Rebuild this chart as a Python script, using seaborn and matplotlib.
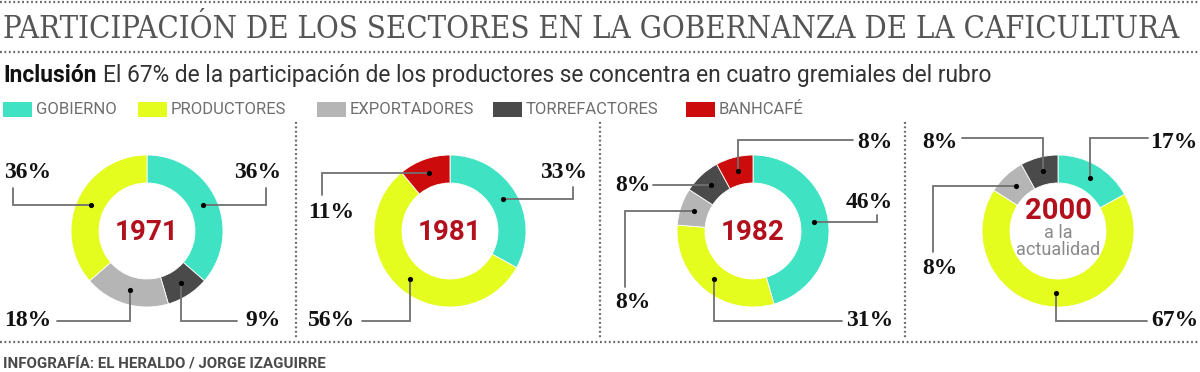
import matplotlib
matplotlib.use("Agg")
import matplotlib.pyplot as plt
import seaborn as sns
import numpy as np
from matplotlib.patches import Rectangle

sns.set_theme(style="white")
plt.rcParams['font.family'] = ['Roboto', 'DejaVu Sans']

# ---------------- data ----------------
categories = ["GOBIERNO", "PRODUCTORES", "EXPORTADORES", "TORREFACTORES", "BANHCAFÉ"]
cat_colors = ["#40e2c4", "#e4fc1e", "#b5b5b5", "#4a4a4a", "#cc0c0c"]
years = ["1971", "1981", "1982", "2000"]

order_1971 = ["GOBIERNO", "TORREFACTORES", "EXPORTADORES", "PRODUCTORES"]
values_1971 = [36, 9, 18, 36]
order_1981 = ["GOBIERNO", "PRODUCTORES", "BANHCAFÉ"]
values_1981 = [33, 56, 11]
order_1982 = ["GOBIERNO", "PRODUCTORES", "EXPORTADORES", "TORREFACTORES", "BANHCAFÉ"]
values_1982 = [46, 31, 8, 8, 8]
order_2000 = ["GOBIERNO", "PRODUCTORES", "EXPORTADORES", "TORREFACTORES"]
values_2000 = [17, 67, 8, 8]

title = "PARTICIPACIÓN DE LOS SECTORES EN LA GOBERNANZA DE LA CAFICULTURA"
subtitle_bold = "Inclusión"
subtitle_rest = "El 67% de la participación de los productores se concentra en cuatro gremiales del rubro"
year_note_2000 = ["a la", "actualidad"]
footer = "INFOGRAFÍA: EL HERALDO / JORGE IZAGUIRRE"

# ---------------- layout (pixels, y measured downward) ----------------
W, H = 1200, 372
palette = dict(zip(categories, sns.color_palette(cat_colors)))
centers_x = [147, 450, 753, 1058]
center_y = 231
R_OUT, RING = 76, 28
R_DOT = R_OUT - RING / 2

# leader routes per slice: (kind, a, b, label_x, label_y, ha)
#  "hv": horizontal to x=a, then vertical to y=b
#  "vh": vertical to y=a, then horizontal to x=b
#  "h" : horizontal to x=a (label at dot height)
routes = [
    [("hv", 266, 188, 281, 172, "right"),
     ("vh", 321, 237, 281, 320, "right"),
     ("vh", 321, 57, 4, 320, "left"),
     ("hv", 13, 188, 4, 172, "left")],
    [("hv", 573, 187, 587, 172, "right"),
     ("vh", 321, 362, 308, 320, "left"),
     ("hv", 322, 195, 308, 213, "left")],
    [("hv", 877, 215, 893, 202, "right"),
     ("vh", 321, 842, 893, 320, "right"),
     ("hv", 625, 287, 615, 303, "left"),
     ("h", 653, None, 615, None, "left"),
     ("vh", 140, 853, 893, 143, "right")],
    [("vh", 138, 1148, 1198, 142, "right"),
     ("vh", 321, 1147, 1198, 320, "right"),
     ("hv", 933, 252, 922, 268, "left"),
     ("vh", 138, 962, 922, 142, "left")],
]

panels = [(order_1971, values_1971), (order_1981, values_1981),
          (order_1982, values_1982), (order_2000, values_2000)]


def Y(y):
    return H - y


fig = plt.figure(figsize=(12, 3.72), dpi=100)
fig.patch.set_facecolor("white")
ax = fig.add_axes([0, 0, 1, 1])
renderer = fig.canvas.get_renderer()

LINE_C = "#707070"

for i, (order, vals) in enumerate(panels):
    cx = centers_x[i]
    ax.pie(vals, colors=[palette[c] for c in order], startangle=90,
           counterclock=False, center=(cx, Y(center_y)), radius=R_OUT,
           normalize=True,
           wedgeprops=dict(width=RING, linewidth=0.6, edgecolor="white"))
    total = float(sum(vals))
    cum = 0.0
    for v, route in zip(vals, routes[i]):
        theta = np.deg2rad(360.0 * (cum + v / 2.0) / total)
        cum += v
        dx = cx + R_DOT * np.sin(theta)
        dy = center_y - R_DOT * np.cos(theta)
        kind, a, b, lx, ly, ha = route
        if kind == "hv":
            xs, ys = [dx, a, a], [dy, dy, b]
        elif kind == "vh":
            xs, ys = [dx, dx, b], [dy, a, a]
        else:
            xs, ys = [dx, a], [dy, dy]
            ly = dy
        ax.plot(xs, [Y(t) for t in ys], color=LINE_C, lw=1.3,
                solid_joinstyle="miter", zorder=3)
        ax.scatter([dx], [Y(dy)], s=14, color="black", zorder=4, linewidths=0)
        ax.text(lx, Y(ly), f"{v}%", ha=ha, va="center", fontsize=17,
                fontweight="bold", family=["Liberation Serif", "DejaVu Serif"],
                color="#111111", zorder=5)

    # year in the centre
    if i < 3:
        ax.text(cx, Y(center_y + 1), years[i], ha="center", va="center",
                fontsize=20, fontweight="bold", color="#b3101e", zorder=5)
    else:
        ax.text(cx, Y(211), years[i], ha="center", va="center",
                fontsize=21, fontweight="bold", color="#b3101e", zorder=5)
        ax.text(cx, Y(233), year_note_2000[0], ha="center", va="center",
                fontsize=13, color="#8a8a8a", zorder=5)
        ax.text(cx, Y(250), year_note_2000[1], ha="center", va="center",
                fontsize=13, color="#8a8a8a", zorder=5)

ax.set_xlim(0, W)
ax.set_ylim(0, H)
ax.set_aspect("auto")
ax.axis("off")


def fit_width(texts, target):
    bbs = [t.get_window_extent(renderer=renderer) for t in texts]
    x0 = min(b.x0 for b in bbs)
    x1 = max(b.x1 for b in bbs)
    f = target / (x1 - x0)
    for t in texts:
        t.set_fontsize(t.get_fontsize() * f)


# title
t_title = ax.text(3, Y(38), title, ha="left", va="baseline", fontsize=30,
                  family=["DejaVu Serif"], fontstretch="condensed",
                  color="#555555")
fit_width([t_title], 1177)

# subtitle
t_b = ax.text(3, Y(82), subtitle_bold, ha="left", va="baseline", fontsize=16,
              fontweight="bold", color="#111111")
t_r = ax.text(0, Y(82), subtitle_rest, ha="left", va="baseline", fontsize=16,
              color="#333333")


def place_rest():
    bb = t_b.get_window_extent(renderer=renderer)
    t_r.set_x(bb.x1 + 0.28 * t_b.get_fontsize() * 100 / 72)


place_rest()
for _ in range(3):
    fit_width([t_b, t_r], 989)
    place_rest()

# legend
leg_patch_x = [3, 138, 317, 493, 686]
for c, px in zip(categories, leg_patch_x):
    ax.add_patch(Rectangle((px, Y(117)), 29, 15, color=palette[c], lw=0))
    ax.text(px + 33, Y(109.5), c, ha="left", va="center", fontsize=12,
            color="#6e6e6e")

# dotted rules
DOT = dict(color="#666666", lw=1.6, linestyle=(0, (0.8, 1.2)))
for yy in [2, 52, 342]:
    ax.plot([0, W], [Y(yy), Y(yy)], **DOT)
for xx in [296, 600, 905]:
    ax.plot([xx, xx], [Y(122), Y(338)], **DOT)

# footer
t_f = ax.text(3, Y(367), footer, ha="left", va="baseline", fontsize=12,
              fontweight="bold", color="#4a4a4a")
fit_width([t_f], 319)

fig.savefig("out.png", dpi=100, facecolor="white")
